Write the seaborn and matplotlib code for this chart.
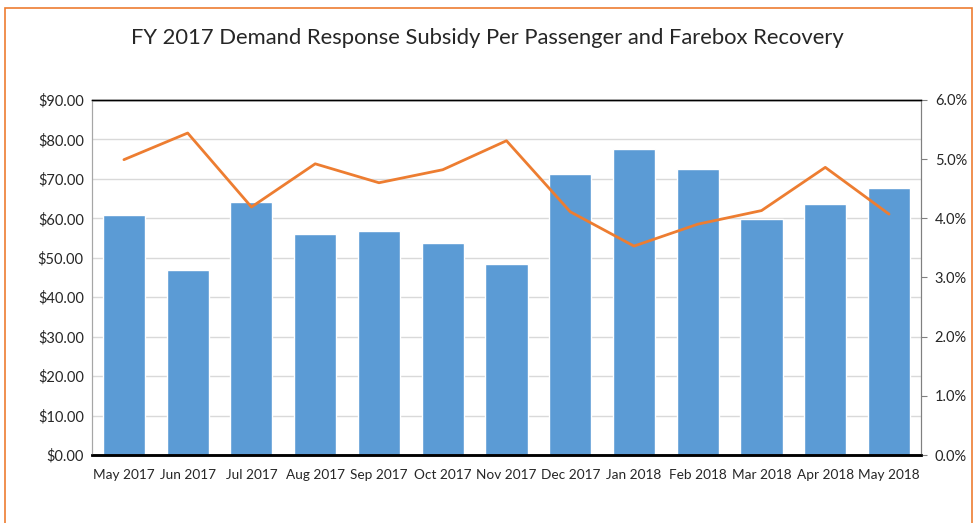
import matplotlib
matplotlib.use('Agg')
import matplotlib.pyplot as plt
from matplotlib.patches import Rectangle
from matplotlib.ticker import FuncFormatter
import seaborn as sns
import pandas as pd
import numpy as np

# data
months = ['May 2017', 'Jun 2017', 'Jul 2017', 'Aug 2017', 'Sep 2017', 'Oct 2017',
          'Nov 2017', 'Dec 2017', 'Jan 2018', 'Feb 2018', 'Mar 2018', 'Apr 2018', 'May 2018']
subsidy = [60.9, 47.0, 64.2, 56.0, 56.8, 53.8, 48.3, 71.3, 77.6, 72.5, 59.8, 63.7, 67.7]
farebox = [4.99, 5.44, 4.19, 4.92, 4.60, 4.82, 5.31, 4.11, 3.53, 3.90, 4.13, 4.86, 4.07]

df = pd.DataFrame({'month': months, 'subsidy': subsidy, 'farebox': farebox})

sns.set_style('white')
plt.rcParams['font.family'] = ['Lato', 'DejaVu Sans']

fig = plt.figure(figsize=(9.74, 5.23), dpi=100)
ax = fig.add_axes([0.0945, 0.130, 0.851, 0.679])

sns.barplot(data=df, x='month', y='subsidy', color='#5B9BD5', saturation=1,
            width=0.66, ax=ax)
ax.set_ylim(0, 90)
ax.set_yticks(np.arange(0, 91, 10))
ax.yaxis.set_major_formatter(FuncFormatter(lambda v, p: f'${v:.2f}'))
ax.set_xlim(-0.5, len(months) - 0.5)
ax.set_xlabel('')
ax.set_ylabel('')
ax.grid(axis='y', color='#D9D9D9', linewidth=1)
ax.set_axisbelow(True)
ax.tick_params(axis='y', labelsize=10.5, length=0, pad=6)
ax.tick_params(axis='x', labelsize=9.8, length=0, pad=10)

ax2 = ax.twinx()
sns.lineplot(x=np.arange(len(months)), y=df['farebox'], color='#ED7D31',
             linewidth=2, ax=ax2)
ax2.set_ylim(0, 6)
ax2.set_yticks(np.arange(0, 6.1, 1))
ax2.yaxis.set_major_formatter(FuncFormatter(lambda v, p: f'{v:.1f}%'))
ax2.set_ylabel('')
ax2.tick_params(axis='y', labelsize=10.5, length=4, color='#808080', pad=6)

for a in (ax, ax2):
    a.spines['left'].set_color('#A6A6A6')
    a.spines['right'].set_color('#808080')
    a.spines['top'].set_color('#000000')
    a.spines['bottom'].set_color('#000000')
    a.spines['bottom'].set_linewidth(1.8)
    a.spines['top'].set_linewidth(1.0)

fig.text(0.5, 0.927, 'FY 2017 Demand Response Subsidy Per Passenger and Farebox Recovery',
         ha='center', va='center', fontsize=15.8)

# orange frame around the chart area
fig.patches.append(Rectangle((0.005, -0.05), 0.993, 1.035, transform=fig.transFigure,
                             fill=False, edgecolor='#ED7D31', linewidth=1.2))

fig.savefig('out.png', dpi=100, facecolor='white')
